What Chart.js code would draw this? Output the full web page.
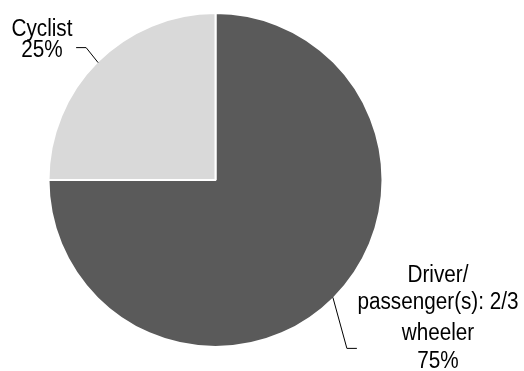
<!DOCTYPE html>
<html>
<head>
<meta charset="utf-8">
<script src="https://cdn.jsdelivr.net/npm/chart.js@4"></script>
<style>
  html, body { margin: 0; padding: 0; background: #ffffff; }
  #wrap { width: 524px; height: 371px; }
</style>
</head>
<body>
<div id="wrap"><canvas id="c" width="524" height="371"></canvas></div>
<script>
// ---- data ----
const categories = ['Driver/passenger(s): 2/3 wheeler', 'Cyclist'];
const shares = [75, 25];
const labelLines = [['Driver/', 'passenger(s): 2/3', 'wheeler'], ['Cyclist']];
const sliceColors = ['#5a5a5a', '#d9d9d9'];

// ---- label layout (leader elbow / text placement) ----
const labelLayout = [
  { elbow: [14, 51], end: [24, 51], textX: 438, baselines: [282, 309, 340, 368] },
  { elbow: [-12, -15], end: [-22, -15], textX: 42, baselines: [36, 57] }
];

const labelPlugin = {
  id: 'pieLabels',
  afterDraw(chart) {
    const ctx = chart.ctx;
    const meta = chart.getDatasetMeta(0);
    meta.data.forEach((arc, i) => {
      const p = arc.getProps(['x', 'y', 'startAngle', 'endAngle', 'outerRadius'], true);
      const mid = (p.startAngle + p.endAngle) / 2;
      const r = p.outerRadius - 1;
      const sx = p.x + Math.cos(mid) * r;
      const sy = p.y + Math.sin(mid) * r;
      const L = labelLayout[i];
      ctx.save();
      ctx.strokeStyle = '#000000';
      ctx.lineWidth = 1;
      ctx.beginPath();
      ctx.moveTo(sx, sy);
      ctx.lineTo(sx + L.elbow[0], sy + L.elbow[1]);
      ctx.lineTo(sx + L.end[0], sy + L.end[1]);
      ctx.stroke();
      const lines = labelLines[i].concat([shares[i] + '%']);
      ctx.fillStyle = '#000000';
      ctx.font = '23px "Liberation Sans", Arial, sans-serif';
      ctx.textAlign = 'center';
      ctx.textBaseline = 'alphabetic';
      lines.forEach((t, k) => {
        ctx.save();
        ctx.translate(L.textX, L.baselines[k]);
        ctx.scale(0.9, 1);
        ctx.fillText(t, 0, 0);
        ctx.restore();
      });
      ctx.restore();
    });
  }
};

new Chart(document.getElementById('c'), {
  type: 'pie',
  data: {
    labels: categories,
    datasets: [{
      data: shares,
      backgroundColor: sliceColors,
      borderColor: '#ffffff',
      borderWidth: 2,
      radius: 167,
      hoverOffset: 0
    }]
  },
  options: {
    responsive: false,
    animation: false,
    layout: { padding: { left: 10, right: 103, top: 4, bottom: 15 } },
    plugins: {
      legend: { display: false },
      tooltip: { enabled: false }
    }
  },
  plugins: [labelPlugin]
});
</script>
</body>
</html>
